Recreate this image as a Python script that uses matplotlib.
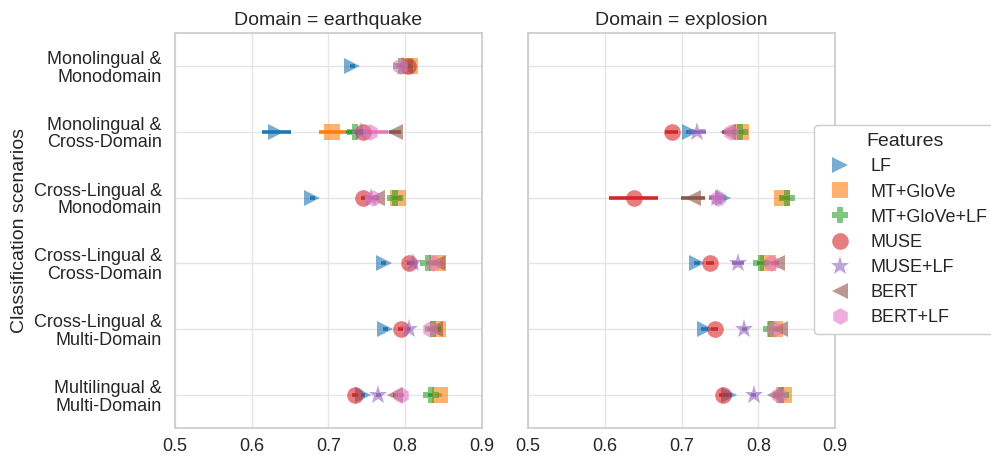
import numpy as np
import matplotlib
matplotlib.use("Agg")
from matplotlib import pyplot as plt
import seaborn as sns

sns.set_theme(style="whitegrid", font_scale=1.2)
plt.rcParams['font.family'] = ['Liberation Sans', 'DejaVu Sans']
plt.rcParams['grid.color'] = '#e5e5e5'
plt.rcParams['axes.edgecolor'] = '#cccccc'

scenarios = ["Monolingual &\nMonodomain", "Monolingual &\nCross-Domain",
             "Cross-Lingual &\nMonodomain", "Cross-Lingual &\nCross-Domain",
             "Cross-Lingual &\nMulti-Domain", "Multilingual &\nMulti-Domain"]
features = ["LF", "MT+GloVe", "MT+GloVe+LF", "MUSE", "MUSE+LF", "BERT", "BERT+LF"]
markers = [">", "s", "P", "o", "*", "<", "h"]
domains = ["earthquake", "explosion"]

# mean scores, one list per feature, one value per scenario
quake = {
    "LF":          [0.731, 0.632, 0.679, 0.772, 0.774, 0.745],
    "MT+GloVe":    [0.806, 0.705, 0.791, 0.841, 0.843, 0.845],
    "MT+GloVe+LF": [0.795, 0.735, 0.787, 0.830, 0.836, 0.833],
    "MUSE":        [0.804, 0.745, 0.745, 0.805, 0.794, 0.735],
    "MUSE+LF":     [0.797, 0.743, 0.755, 0.810, 0.805, 0.765],
    "BERT":        [0.800, 0.787, 0.763, 0.843, 0.839, 0.787],
    "BERT+LF":     [0.793, 0.754, 0.758, 0.836, 0.832, 0.795],
}
quake_err = {
    "LF":          [0.003, 0.019, 0.003, 0.003, 0.003, 0.003],
    "MT+GloVe":    [0.003, 0.018, 0.003, 0.003, 0.003, 0.003],
    "MT+GloVe+LF": [0.003, 0.012, 0.004, 0.003, 0.003, 0.003],
    "MUSE":        [0.003, 0.008, 0.003, 0.003, 0.003, 0.004],
    "MUSE+LF":     [0.003, 0.008, 0.003, 0.003, 0.003, 0.003],
    "BERT":        [0.003, 0.008, 0.003, 0.003, 0.003, 0.003],
    "BERT+LF":     [0.005, 0.024, 0.004, 0.003, 0.003, 0.003],
}
nan = np.nan
blast = {
    "LF":          [nan, 0.711, 0.754, 0.720, 0.730, 0.762],
    "MT+GloVe":    [nan, 0.778, 0.831, 0.813, 0.822, 0.833],
    "MT+GloVe+LF": [nan, 0.776, 0.837, 0.804, 0.817, 0.830],
    "MUSE":        [nan, 0.687, 0.638, 0.737, 0.743, 0.754],
    "MUSE+LF":     [nan, 0.720, 0.746, 0.774, 0.782, 0.794],
    "BERT":        [nan, 0.761, 0.715, 0.824, 0.828, 0.822],
    "BERT+LF":     [nan, 0.765, 0.748, 0.817, 0.820, 0.827],
}
blast_err = {
    "LF":          [nan, 0.005, 0.004, 0.004, 0.004, 0.004],
    "MT+GloVe":    [nan, 0.003, 0.003, 0.003, 0.003, 0.003],
    "MT+GloVe+LF": [nan, 0.004, 0.004, 0.006, 0.003, 0.003],
    "MUSE":        [nan, 0.009, 0.032, 0.005, 0.005, 0.005],
    "MUSE+LF":     [nan, 0.012, 0.010, 0.008, 0.003, 0.003],
    "BERT":        [nan, 0.008, 0.016, 0.003, 0.003, 0.003],
    "BERT+LF":     [nan, 0.006, 0.008, 0.003, 0.003, 0.003],
}

colors = sns.color_palette("tab10", len(features))
fig, axes = plt.subplots(1, 2, figsize=(9.91, 4.55), dpi=100, sharey=True)
fig.subplots_adjust(left=175/991, right=835/991, top=1-33/455, bottom=1-428/455, wspace=0.15)

ypos = np.arange(len(scenarios))
for ax, dom, vals, errs in zip(axes, domains, [quake, blast], [quake_err, blast_err]):
    for f, m, c in zip(features, markers, colors):
        x = np.array(vals[f])
        e = np.array(errs[f])
        ax.hlines(ypos, x - e, x + e, color=c, lw=2.6, zorder=3)
        ax.plot(x, ypos, ls="none", marker=m, ms=12 if m != "*" else 14, mew=0,
                color=c, alpha=0.6, label=f, zorder=4)
    ax.set_title("Domain = " + dom, fontsize=14)
    ax.set_xlim(0.5, 0.9)
    ax.set_xticks([0.5, 0.6, 0.7, 0.8, 0.9])
    ax.set_xticklabels(["0.5", "0.6", "0.7", "0.8", "0.9"])
    ax.set_ylim(5.5, -0.5)
    ax.tick_params(labelsize=13)
    ax.tick_params(axis="x", pad=1)
    ax.set_xlabel("")

axes[0].set_yticks(ypos)
axes[0].set_yticklabels(scenarios, fontsize=13, linespacing=1.05)
axes[0].set_ylabel("Classification scenarios", fontsize=14)

handles, labels = axes[0].get_legend_handles_labels()
leg = fig.legend(handles, labels, title="Features", loc="center left",
                 bbox_to_anchor=(814/991, 0.495), borderaxespad=0, fontsize=13,
                 title_fontsize=14, frameon=True, handletextpad=0.7, borderpad=0.45,
                 labelspacing=0.45)
leg.get_frame().set_alpha(1.0)

plt.savefig("out.png", dpi=100)
